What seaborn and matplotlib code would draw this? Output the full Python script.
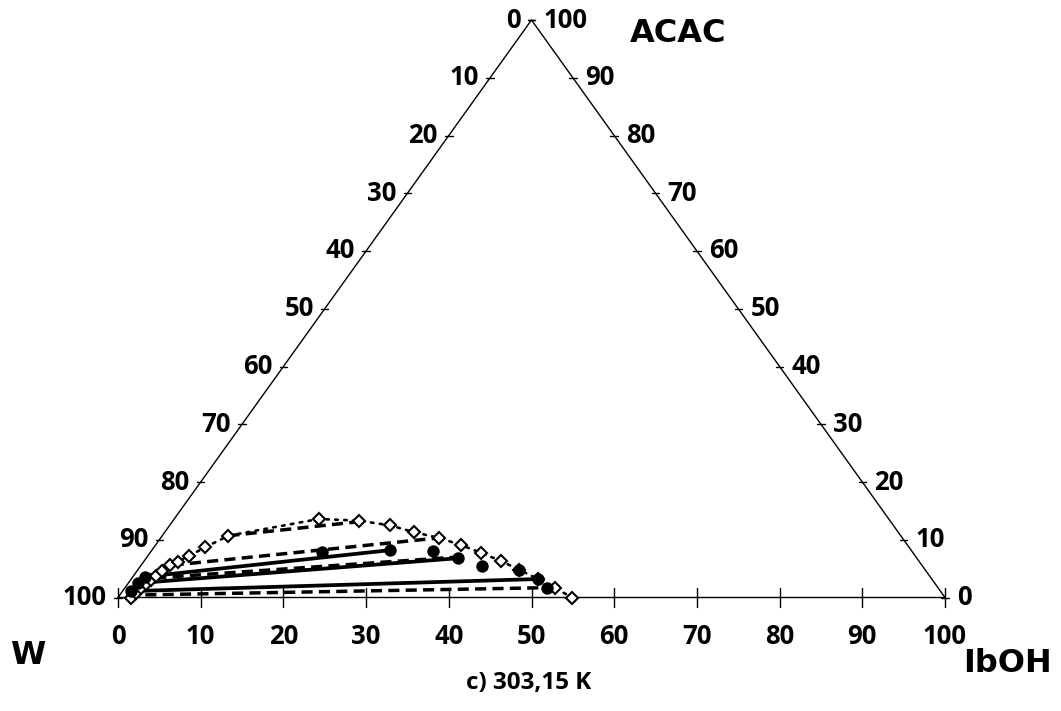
import numpy as np
import pandas as pd
import matplotlib
matplotlib.use("Agg")
import matplotlib.pyplot as plt
import seaborn as sns

sns.set_theme(style="white")
plt.rcParams["font.family"] = ["Open Sans", "DejaVu Sans"]

# Compositions in mass %: IbOH (isobutanol) and ACAC; water is the balance.
# Binodal curve, water-rich branch to alcohol-rich branch
binodal_iboh = [1.6, 1.8, 2.0, 2.2, 2.5, 2.7, 3.0, 3.5, 4.1, 5.0, 6.2, 8.0,
                17.5, 22.5, 26.6, 30.2, 33.7, 36.9, 40.1, 43.2, 46.1, 49.2,
                52.1, 54.9]
binodal_acac = [0.0, 0.8, 1.6, 2.3, 3.0, 3.7, 4.6, 5.6, 6.2, 7.2, 8.7, 10.7,
                13.6, 13.3, 12.5, 11.3, 10.3, 9.1, 7.7, 6.3, 4.8, 3.2,
                1.6, 0.0]

# Experimental tie lines (aqueous end -> organic end)
exp_aq_iboh = [1.5, 1.2, 1.0]
exp_aq_acac = [3.6, 2.5, 1.1]
exp_org_iboh = [28.8, 37.7, 49.2]
exp_org_acac = [8.2, 6.8, 3.2]

# Calculated tie lines (aqueous end -> organic end)
calc_aq_iboh = [8.0, 3.8, 2.8, 1.0]
calc_aq_acac = [10.7, 5.6, 3.4, 0.4]
calc_org_iboh = [22.4, 33.5, 37.5, 51.0]
calc_org_acac = [13.1, 10.3, 7.0, 1.7]

# Additional experimental organic-phase points
extra_iboh = [20.7, 34.1, 41.3, 46.1]
extra_acac = [7.9, 8.0, 5.5, 4.8]

tick_values = list(range(0, 101, 10))


def to_xy(iboh, acac):
    iboh = np.asarray(iboh, float)
    acac = np.asarray(acac, float)
    return iboh + acac / 2.0, acac


W_PX, H_PX = 1061, 711
fig = plt.figure(figsize=(W_PX / 100, H_PX / 100), dpi=100)
ax = fig.add_axes([118 / W_PX, (H_PX - 597.5) / H_PX, 827 / W_PX, 577.5 / H_PX])
ax.set_xlim(0, 100)
ax.set_ylim(0, 100)
ax.axis("off")

# Triangle frame
ax.plot([0, 100, 50, 0], [0, 0, 100, 0], color="black", lw=1.0, clip_on=False, zorder=1)

# Ticks on the three sides (drawn as short crossing marks)
tick_font = dict(fontsize=18.5, fontweight="bold", color="black")
for v in tick_values:
    # bottom side: IbOH
    ax.plot([v, v], [-1.7, 1.7], color="black", lw=1.0, clip_on=False)
    ax.annotate(str(v), xy=(v, 0), xytext=(0, -39), textcoords="offset pixels",
                ha="center", va="center", **tick_font)
    # left side: W
    lx, ly = (100 - v) / 2.0, 100 - v
    ax.plot([lx - 0.45, lx + 0.45], [ly, ly], color="black", lw=1.0, clip_on=False)
    ax.annotate(str(v), xy=(lx, ly), xytext=(-11, 0), textcoords="offset pixels",
                ha="right", va="center", **tick_font)
    # right side: ACAC
    rx, ry = 100 - v / 2.0, v
    ax.plot([rx - 0.45, rx + 0.45], [ry, ry], color="black", lw=1.0, clip_on=False)
    ax.annotate(str(v), xy=(rx, ry), xytext=(12, 0), textcoords="offset pixels",
                ha="left", va="center", **tick_font)

# Binodal curve
bx, by = to_xy(binodal_iboh, binodal_acac)
bin_df = pd.DataFrame({"x": bx, "y": by})
sns.lineplot(data=bin_df, x="x", y="y", sort=False, ax=ax, color="black",
             lw=1.9, linestyle=(0, (1, 2.4)), dash_capstyle="round", zorder=2)
ax.plot(bx, by, ls="none", marker="D", ms=6.5, mfc="white", mec="black", mew=1.5,
        zorder=5, clip_on=False)

# Calculated tie lines (dashed)
for a_i, a_a, o_i, o_a in zip(calc_aq_iboh, calc_aq_acac, calc_org_iboh, calc_org_acac):
    x, y = to_xy([a_i, o_i], [a_a, o_a])
    sns.lineplot(x=x, y=y, ax=ax, color="black", lw=2.5, sort=False,
                 linestyle=(0, (3.2, 1.8)), zorder=3)

# Experimental tie lines (solid)
for a_i, a_a, o_i, o_a in zip(exp_aq_iboh, exp_aq_acac, exp_org_iboh, exp_org_acac):
    x, y = to_xy([a_i, o_i], [a_a, o_a])
    sns.lineplot(x=x, y=y, ax=ax, color="black", lw=2.7, sort=False, zorder=3)

ex, ey = to_xy(exp_aq_iboh + exp_org_iboh + extra_iboh + [calc_org_iboh[-1]],
               exp_aq_acac + exp_org_acac + extra_acac + [calc_org_acac[-1]])
sns.scatterplot(x=ex, y=ey, ax=ax, color="black", marker="o", s=80,
                edgecolor="black", linewidth=0, zorder=6, clip_on=False)

# Component labels and caption
lab_font = dict(fontsize=23, fontweight="bold", family="DejaVu Sans", color="black")
fig.text(630 / W_PX, 1 - 33 / H_PX, "ACAC", ha="left", va="center", **lab_font)
fig.text(28 / W_PX, 1 - 656 / H_PX, "W", ha="center", va="center", **lab_font)
fig.text(1008 / W_PX, 1 - 663 / H_PX, "IbOH", ha="center", va="center", **lab_font)
fig.text(529 / W_PX, 1 - 683 / H_PX, "c) 303,15 K", ha="center", va="center",
         fontsize=17.5, fontweight="bold", color="black")

fig.savefig("out.png", dpi=100, facecolor="white")
